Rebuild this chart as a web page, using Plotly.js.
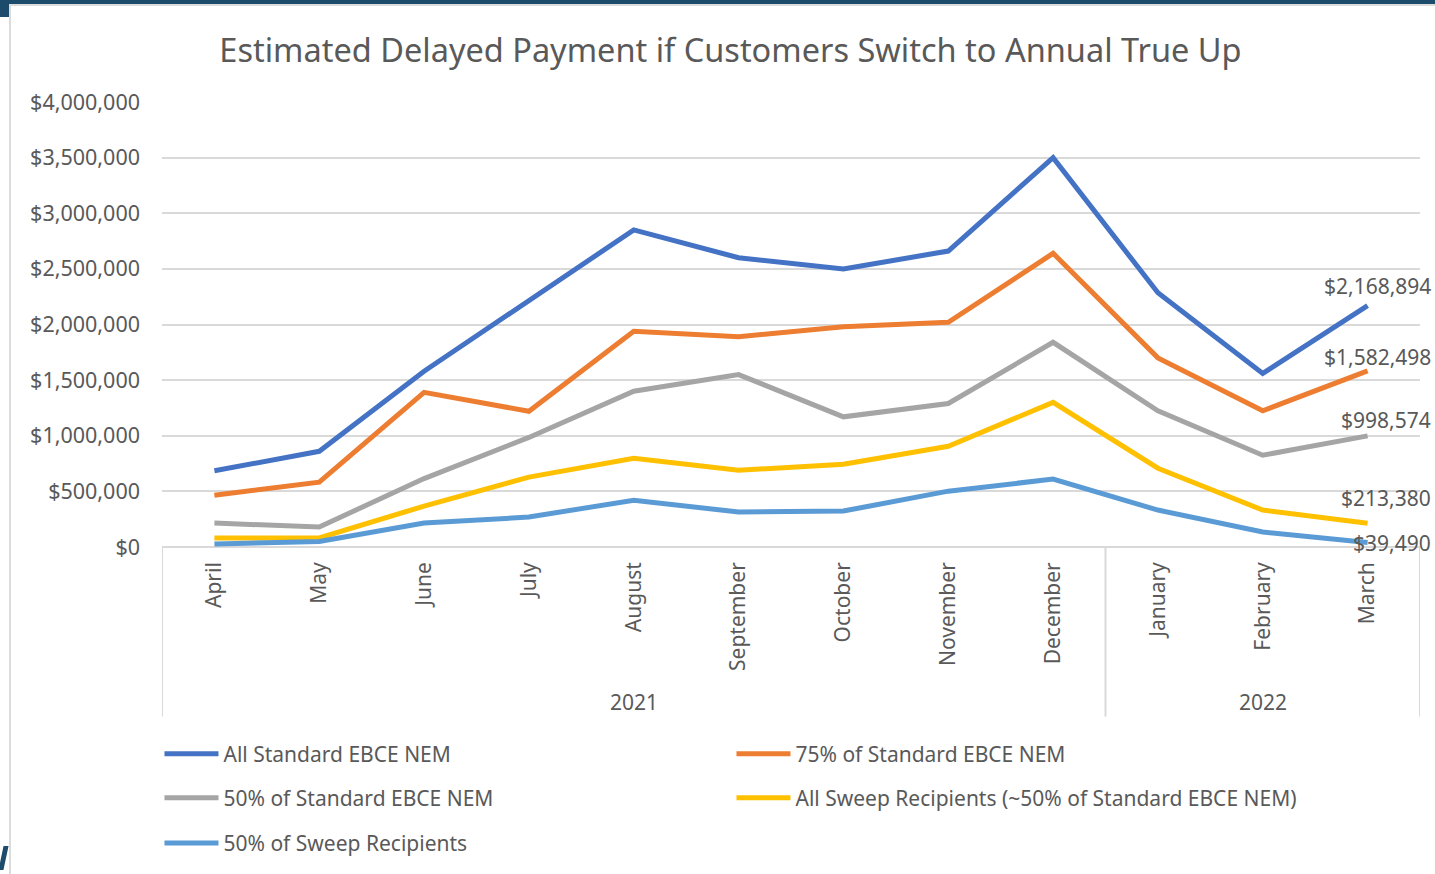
<!DOCTYPE html>
<html>
<head>
<meta charset="utf-8">
<script src="https://cdn.plot.ly/plotly-3.0.1.min.js"></script>
<style>
  html, body { margin: 0; padding: 0; background: #ffffff; overflow: hidden; }
  #chart { position: absolute; left: 0; top: 0; width: 1435px; height: 874px; }
  .deco { position: absolute; pointer-events: none; }
</style>
</head>
<body>
<div id="chart"></div>
<div class="deco" style="left:0;top:0;width:1435px;height:4px;background:#1d4b6c;"></div>
<div class="deco" style="left:0;top:0;width:9px;height:17px;background:#1d4b6c;"></div>
<div class="deco" style="left:9px;top:4px;width:1426px;height:2px;background:#dcdcdc;"></div>
<div class="deco" style="left:9px;top:4px;width:2px;height:870px;background:#dcdcdc;"></div>
<div class="deco" style="left:1px;top:846px;width:5px;height:24px;background:#1d4b6c;transform:skewX(-12deg);"></div>
<script>
// ---- Data ----
const months = ["April","May","June","July","August","September","October","November","December","January","February","March"];
const years  = ["2021","2021","2021","2021","2021","2021","2021","2021","2021","2022","2022","2022"];

const seriesNames = [
  "All Standard EBCE NEM",
  "75% of Standard EBCE NEM",
  "50% of Standard EBCE NEM",
  "All Sweep Recipients (~50% of Standard EBCE NEM)",
  "50% of Sweep Recipients"
];

const allStandard   = [685000, 860000, 1580000, 2220000, 2850000, 2600000, 2500000, 2660000, 3500000, 2285000, 1560000, 2168894];
const std75         = [466000, 583000, 1390000, 1220000, 1940000, 1890000, 1980000, 2020000, 2640000, 1700000, 1225000, 1582498];
const std50         = [215000, 180000, 615000, 985000, 1400000, 1550000, 1170000, 1290000, 1840000, 1225000, 825000, 998574];
const allSweep      = [81000, 81000, 368000, 628000, 798000, 690000, 744000, 906000, 1300000, 708000, 332000, 213380];
const sweep50       = [27000, 50000, 215000, 269000, 421000, 314000, 323000, 502000, 610000, 332000, 135000, 39490];

const seriesValues = [allStandard, std75, std50, allSweep, sweep50];

// ---- Styles ----
const colors = ["#4472C4", "#ED7D31", "#A5A5A5", "#FFC000", "#5B9BD5"];
const legendIds = ["legend", "legend", "legend2", "legend2", "legend3"];
const labelYShift = [20, 14, 16, 25, 0];
const FONT = "Noto Sans, Open Sans, sans-serif";
const TXT = "#595959";
const DIV = "#D9D9D9";

const traces = seriesValues.map((vals, i) => ({
  type: "scatter",
  mode: "lines",
  name: seriesNames[i],
  x: months,
  y: vals,
  line: { color: colors[i], width: 5 },
  legend: legendIds[i],
  hoverinfo: "x+y+name"
}));

const fmt = v => "$" + Math.round(v).toLocaleString("en-US");

const annotations = seriesValues.map((vals, i) => ({
  x: months.length - 1,
  y: vals[vals.length - 1],
  xref: "x", yref: "y",
  text: fmt(vals[vals.length - 1]),
  showarrow: false,
  xanchor: "right",
  yanchor: "middle",
  xshift: 65,
  yshift: labelYShift[i],
  font: { family: FONT, size: 21, color: TXT }
}));

// year group labels and dividers, derived from the years array
const groups = [];
years.forEach((y, i) => {
  if (!groups.length || groups[groups.length - 1].name !== y) groups.push({ name: y, start: i, end: i });
  else groups[groups.length - 1].end = i;
});
groups.forEach(g => {
  annotations.push({
    x: (g.start + g.end) / 2, xref: "x",
    y: -0.3475, yref: "paper",
    text: g.name, showarrow: false,
    xanchor: "center", yanchor: "middle",
    font: { family: FONT, size: 21, color: TXT }
  });
});
const dividerXs = [groups[0].start - 0.5].concat(groups.map(g => g.end + 0.5));
const shapes = dividerXs.map(xv => ({
  type: "line", xref: "x", yref: "paper",
  x0: xv, x1: xv, y0: 0, y1: -0.381,
  line: { color: DIV, width: 2 }
}));

const legendBase = {
  orientation: "h",
  x: -0.002, xanchor: "left",
  yanchor: "middle",
  itemwidth: 54,
  entrywidth: 503, entrywidthmode: "pixels",
  font: { family: FONT, size: 21, color: TXT },
  bgcolor: "rgba(0,0,0,0)",
  traceorder: "normal"
};

const layout = {
  width: 1435, height: 874,
  paper_bgcolor: "#ffffff",
  plot_bgcolor: "#ffffff",
  margin: { l: 162, r: 15, t: 102, b: 326 },
  title: {
    text: "Estimated Delayed Payment if Customers Switch to Annual True Up",
    font: { family: FONT, size: 32.5, color: TXT },
    x: 0.509, xref: "container", xanchor: "center",
    y: 49, yref: "container", yanchor: "middle"
  },
  xaxis: {
    type: "category",
    range: [-0.5, months.length - 0.5],
    showgrid: false,
    zeroline: false,
    showline: false,
    tickangle: -90,
    tickfont: { family: FONT, size: 21, color: TXT },
    ticklabelstandoff: 10,
    ticks: ""
  },
  yaxis: {
    range: [0, 4000000],
    dtick: 500000,
    tickformat: "$,.0f",
    showgrid: true,
    gridcolor: DIV,
    gridwidth: 1.5,
    zeroline: true,
    zerolinecolor: DIV,
    zerolinewidth: 2,
    showline: false,
    ticks: "",
    ticklabelstandoff: 21,
    tickfont: { family: FONT, size: 21.5, color: TXT }
  },
  legend:  Object.assign({}, legendBase, { y: -0.462 }),
  legend2: Object.assign({}, legendBase, { y: -0.561 }),
  legend3: Object.assign({}, legendBase, { y: -0.662 }),
  annotations: annotations,
  shapes: shapes,
  showlegend: true
};

Plotly.newPlot("chart", traces, layout, { displayModeBar: false, responsive: false });
</script>
</body>
</html>
